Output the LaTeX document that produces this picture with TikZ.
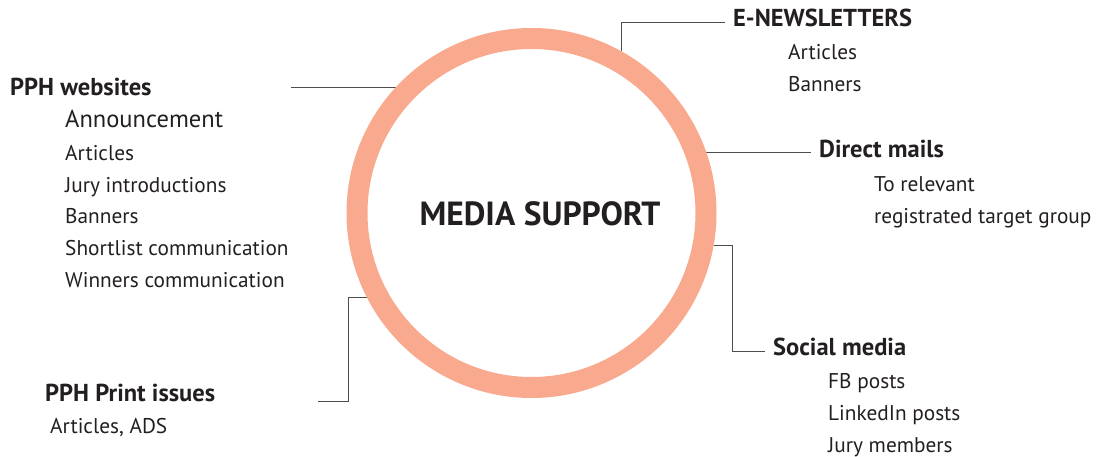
\documentclass[tikz,border=0pt]{standalone}
\usepackage{fontspec}
\setmainfont{PT Sans}
\usetikzlibrary{positioning,backgrounds}
\definecolor{salmon}{HTML}{F8A98E}
\definecolor{ink}{HTML}{231F20}
\definecolor{wire}{HTML}{4D4D4D}

\begin{document}
\begin{tikzpicture}[x=1pt, y=-1pt,
    head/.style={anchor=base west, inner sep=8pt, font=\fontsize{24.5}{24.5}\selectfont\bfseries, text=ink},
    entry/.style={anchor=base west, inner sep=0pt, font=\fontsize{21.3}{21.3}\selectfont, text=ink},
    link/.style={draw=wire, line width=0.9pt}
]
\useasboundingbox (0,0) rectangle (1096,457);

\node[circle, draw=salmon, line width=21pt, minimum size=349pt, inner sep=0pt] (ring) at (531.5,213) {};
\node[anchor=base, font=\fontsize{33.5}{33.5}\selectfont\bfseries, text=ink] (title) at (540,226) {MEDIA SUPPORT};

% left: websites
\node[head, inner sep=0pt] (web) at (10,95.5) {PPH websites};
\node[entry, font=\fontsize{24.5}{24.5}\selectfont] (w1) at (65,127.5) {Announcement};
\node[entry] (w2) at (65,160.5) {Articles};
\node[entry] (w3) at (65,192.5) {Jury introductions};
\node[entry] (w4) at (65,223.5) {Banners};
\node[entry] (w5) at (65,255.5) {Shortlist communication};
\node[entry] (w6) at (65,287.5) {Winners communication};

% left: print
\node[head, inner sep=0pt] (print) at (45,401.5) {PPH Print issues};
\node[entry] (p1) at (50,433.5) {Articles, ADS};

% right: newsletters
\node[head] (news) at (725,26.7) {E-NEWSLETTERS};
\node[entry] (n1) at (788,59.5) {Articles};
\node[entry] (n2) at (788,91.5) {Banners};

% right: direct mails
\node[head] (mail) at (811,157.5) {Direct mails};
\node[entry] (m1) at (874,191.5) {To relevant};
\node[entry] (m2) at (874,223.5) {registrated target group};

% right: social media
\node[head] (social) at (765,355.5) {Social media};
\node[entry] (s1) at (828,388.5) {FB posts};
\node[entry] (s2) at (828,420.5) {LinkedIn posts};
\node[entry] (s3) at (828,452.5) {Jury members};

\coordinate (webend) at (291,87);
\coordinate (printend) at (318,401);

\begin{scope}[on background layer]
\draw[link] (webend) -- (webend -| ring.137);
\draw[link] (ring.61) |- ([yshift=2pt]news.mid west);
\draw[link] ([yshift=3pt]mail.mid west -| ring.20) -- ([yshift=3pt]mail.mid west);
\draw[link] (ring.-10) -- ++(19,0) |- ([yshift=2pt]social.mid west);
\draw[link] (ring.207) -- ++(-18,0) |- (printend);
\end{scope}
\end{tikzpicture}
\end{document}
